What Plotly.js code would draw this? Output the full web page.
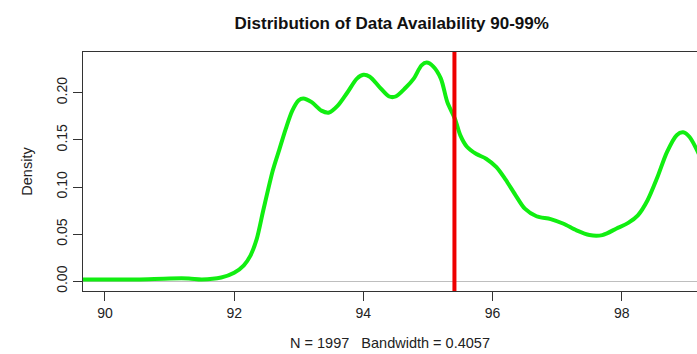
<!DOCTYPE html>
<html>
<head>
<meta charset="utf-8">
<script src="https://cdn.plot.ly/plotly-3.0.1.min.js"></script>
<style>html,body{margin:0;padding:0;background:#fff;}#chart{width:697px;height:354px;}</style>
</head>
<body>
<div id="chart"></div>
<script>
// Density estimate of data availability (percent)
const availability = [89.66, 90.0, 90.5, 91.0, 91.3, 91.5, 91.8, 92.0, 92.15, 92.25, 92.35, 92.45, 92.6, 92.7, 92.8, 92.9, 93.0, 93.07, 93.2, 93.35, 93.47, 93.6, 93.75, 93.9, 94.0, 94.1, 94.25, 94.4, 94.5, 94.65, 94.78, 94.9, 94.98, 95.08, 95.2, 95.3, 95.42, 95.5, 95.6, 95.75, 95.9, 96.06, 96.2, 96.35, 96.5, 96.68, 96.9, 97.1, 97.3, 97.5, 97.7, 97.92, 98.1, 98.25, 98.4, 98.55, 98.7, 98.85, 98.95, 99.05, 99.2];
const density = [0.002, 0.002, 0.002, 0.003, 0.003, 0.002, 0.004, 0.009, 0.017, 0.027, 0.045, 0.075, 0.118, 0.140, 0.162, 0.181, 0.192, 0.194, 0.190, 0.181, 0.179, 0.186, 0.200, 0.215, 0.219, 0.217, 0.206, 0.196, 0.196, 0.205, 0.215, 0.229, 0.232, 0.228, 0.215, 0.190, 0.172, 0.155, 0.143, 0.135, 0.130, 0.121, 0.108, 0.092, 0.077, 0.069, 0.066, 0.061, 0.054, 0.049, 0.049, 0.056, 0.062, 0.070, 0.086, 0.110, 0.137, 0.155, 0.158, 0.153, 0.134];
const markerValue = 95.41;
const xTicks = [90, 92, 94, 96, 98];
const yTicks = [0.00, 0.05, 0.10, 0.15, 0.20];
const yTickLabels = ["0.00", "0.05", "0.10", "0.15", "0.20"];
const titleText = "Distribution of Data Availability 90-99%";
const xLabel = "N = 1997   Bandwidth = 0.4057";
const yLabel = "Density";

const FONT = "Liberation Sans, Arial, Helvetica, sans-serif";

const traces = [{
  x: availability,
  y: density,
  type: 'scatter',
  mode: 'lines',
  line: {color: '#11ee11', width: 4, shape: 'spline', smoothing: 0.8},
  hoverinfo: 'x+y',
  showlegend: false
}];

const layout = {
  width: 697,
  height: 354,
  margin: {l: 83, r: 0, t: 52, b: 63, pad: 0},
  paper_bgcolor: '#ffffff',
  plot_bgcolor: '#ffffff',
  font: {family: FONT, size: 14, color: '#222'},
  showlegend: false,
  title: {
    text: '<b>' + titleText + '</b>',
    font: {family: FONT, size: 17, color: '#111'},
    xref: 'container', x: 0.562, xanchor: 'center',
    yref: 'container', y: 0.935, yanchor: 'middle'
  },
  xaxis: {
    range: [89.66, 99.165],
    tickmode: 'array',
    tickvals: xTicks,
    ticktext: xTicks.map(String),
    ticks: 'outside', ticklen: 9, tickwidth: 1, tickcolor: '#333',
    showline: true, linecolor: '#333', linewidth: 1, mirror: true,
    showgrid: false, zeroline: false,
    tickfont: {family: FONT, size: 14, color: '#222'},
    title: {text: xLabel, font: {family: FONT, size: 14.5, color: '#222'}, standoff: 18},
    automargin: false
  },
  yaxis: {
    range: [-0.0103, 0.2432],
    tickmode: 'array',
    tickvals: yTicks,
    ticktext: yTickLabels,
    tickangle: -90,
    ticks: 'outside', ticklen: 9, tickwidth: 1, tickcolor: '#333',
    showline: true, linecolor: '#333', linewidth: 1,
    showgrid: false,
    zeroline: true, zerolinecolor: '#bebebe', zerolinewidth: 1,
    tickfont: {family: FONT, size: 14, color: '#222'},
    title: {text: yLabel, font: {family: FONT, size: 14.5, color: '#222'}, standoff: 18},
    automargin: false
  },
  shapes: [{
    type: 'line', xref: 'x', yref: 'paper',
    x0: markerValue, x1: markerValue, y0: 0, y1: 1,
    line: {color: '#ee0000', width: 4}
  }]
};

Plotly.newPlot('chart', traces, layout, {displayModeBar: false, staticPlot: true});
</script>
</body>
</html>
